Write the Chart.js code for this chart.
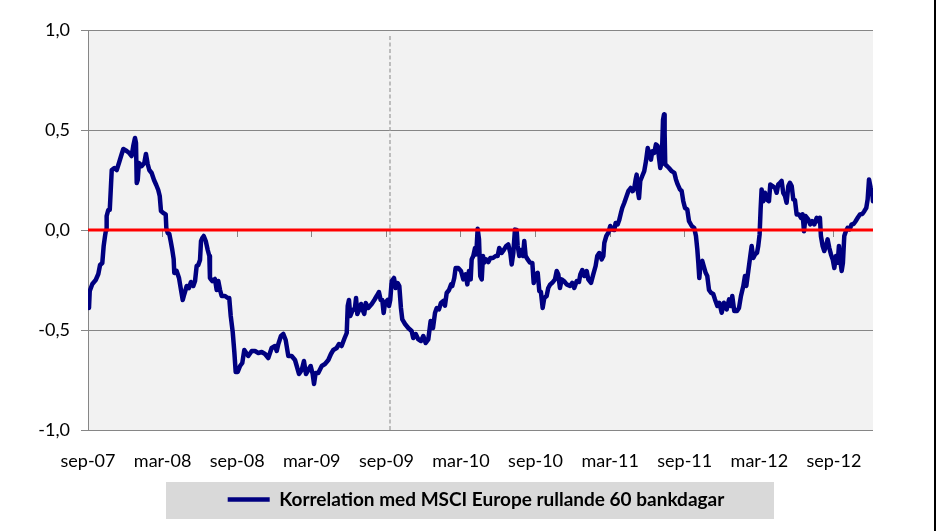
<!DOCTYPE html>
<html>
<head>
<meta charset="utf-8">
<style>
  html, body { margin: 0; padding: 0; background: #ffffff; }
  #wrap { position: relative; width: 939px; height: 531px; }
  canvas { display: block; }
</style>
<script src="https://cdn.jsdelivr.net/npm/chart.js@4.4.1/dist/chart.umd.min.js"></script>
</head>
<body>
<div id="wrap"><canvas id="c" width="939" height="531"></canvas></div>
<script>
// ---- Data (months since sep-07, correlation) ----
const seriesLabel = 'Korrelation med MSCI Europe rullande 60 bankdagar';
const tickLabels = ['sep-07','mar-08','sep-08','mar-09','sep-09','mar-10','sep-10','mar-11','sep-11','mar-12','sep-12'];
const yTickLabels = ['-1,0','-0,5','0,0','0,5','1,0'];
const xMin = 0;
const xMax = 63.14;
const zeroLevel = 0;
const markerMonth = 24.29;          // dashed vertical reference line
const markerRange = [-1, 0.98];

const months = [
0.08,0.14,0.35,0.62,0.83,0.97,1.15,1.26,1.37,1.45,1.50,1.63,1.75,1.83,1.91,2.12,2.31,2.49,2.71,2.84,
3.11,3.32,3.51,3.64,3.78,3.86,3.92,4.00,4.10,4.32,4.53,4.66,4.80,4.93,5.12,5.31,5.49,5.65,5.77,5.87,
6.06,6.25,6.30,6.41,6.54,6.65,6.78,6.89,6.94,7.13,7.32,7.48,7.62,7.75,7.94,8.12,8.28,8.47,8.61,8.74,
8.87,9.01,9.09,9.19,9.31,9.47,9.63,9.76,9.81,10.00,10.21,10.35,10.48,10.62,10.75,11.02,11.24,11.36,11.48,11.64,
11.77,11.88,12.04,12.23,12.41,12.57,12.89,13.17,13.43,13.70,13.97,14.24,14.50,14.77,15.04,15.18,15.31,15.52,15.71,15.90,
16.11,16.38,16.65,16.79,16.97,17.19,17.37,17.53,17.72,17.91,18.07,18.18,18.31,18.52,18.80,19.06,19.33,19.54,19.73,20.00,
20.19,20.40,20.61,20.81,20.89,20.99,21.10,21.26,21.47,21.56,21.66,21.80,21.96,22.09,22.22,22.34,22.54,22.82,23.03,23.22,
23.40,23.54,23.67,23.78,23.89,24.10,24.21,24.31,24.43,24.61,24.75,24.91,25.04,25.17,25.28,25.50,25.76,26.03,26.16,26.36,
26.57,26.78,26.97,27.16,27.37,27.56,27.75,27.91,28.05,28.23,28.39,28.58,28.71,28.85,29.04,29.20,29.30,29.46,29.57,29.78,
30.00,30.19,30.38,30.51,30.64,30.78,30.86,30.99,31.13,31.23,31.34,31.45,31.55,31.67,31.77,31.87,32.03,32.20,32.36,32.57,
32.79,32.95,33.08,33.27,33.46,33.64,33.80,33.97,34.08,34.21,34.34,34.48,34.56,34.69,34.83,34.99,35.09,35.20,35.36,35.55,
35.74,35.85,36.01,36.17,36.30,36.43,36.57,36.70,36.89,37.02,37.18,37.34,37.56,37.70,37.83,37.96,38.10,38.28,38.50,38.77,
38.95,39.11,39.31,39.49,39.60,39.76,39.92,40.11,40.24,40.46,40.64,40.83,40.96,41.12,41.32,41.45,41.53,41.69,41.85,42.01,
42.17,42.33,42.44,42.60,42.73,42.87,42.97,43.13,43.27,43.46,43.65,43.81,43.94,44.05,44.13,44.21,44.32,44.42,44.58,44.74,
44.88,45.02,45.15,45.28,45.39,45.55,45.68,45.82,45.93,46.03,46.14,46.25,46.33,46.38,46.43,46.57,46.73,46.95,47.16,47.29,
47.43,47.61,47.75,47.88,48.02,48.20,48.34,48.56,48.76,48.90,49.01,49.09,49.17,49.28,49.41,49.57,49.68,49.81,49.95,50.11,
50.29,50.43,50.62,50.78,50.97,51.15,51.37,51.56,51.72,51.82,51.98,52.20,52.36,52.52,52.71,52.84,52.95,53.11,53.27,53.38,
53.51,53.65,53.81,53.91,54.02,54.10,54.18,54.31,54.45,54.59,54.77,54.88,55.04,55.26,55.39,55.52,55.66,55.79,55.92,56.06,
56.19,56.33,56.46,56.60,56.73,56.86,57.00,57.19,57.35,57.48,57.59,57.72,57.93,58.09,58.25,58.42,58.61,58.74,58.87,58.95,
59.09,59.22,59.36,59.49,59.62,59.76,59.90,60.03,60.16,60.30,60.40,60.51,60.62,60.72,60.83,60.96,61.10,61.26,61.42,61.58,
61.74,61.91,62.09,62.28,62.44,62.60,62.71,62.82,62.95,63.06,63.14
];

const corr = [
-0.39,-0.305,-0.27,-0.25,-0.22,-0.175,-0.165,-0.08,-0.03,0.0,0.07,0.10,0.10,0.20,0.30,0.31,0.30,0.335,0.38,0.405,
0.395,0.385,0.37,0.42,0.46,0.435,0.235,0.25,0.335,0.32,0.335,0.38,0.33,0.30,0.285,0.25,0.225,0.20,0.17,0.095,
0.085,0.078,0.01,-0.015,-0.02,-0.055,-0.10,-0.145,-0.215,-0.205,-0.24,-0.30,-0.35,-0.32,-0.28,-0.29,-0.26,-0.28,-0.255,-0.18,
-0.175,-0.15,-0.055,-0.04,-0.03,-0.055,-0.10,-0.13,-0.24,-0.255,-0.245,-0.30,-0.255,-0.30,-0.33,-0.33,-0.34,-0.34,-0.43,-0.51,
-0.61,-0.71,-0.71,-0.68,-0.665,-0.60,-0.63,-0.605,-0.605,-0.615,-0.61,-0.62,-0.64,-0.59,-0.58,-0.605,-0.57,-0.53,-0.52,-0.55,
-0.63,-0.63,-0.65,-0.68,-0.72,-0.70,-0.655,-0.72,-0.70,-0.68,-0.72,-0.77,-0.715,-0.715,-0.68,-0.67,-0.65,-0.62,-0.60,-0.59,
-0.57,-0.58,-0.545,-0.515,-0.38,-0.35,-0.43,-0.405,-0.39,-0.34,-0.42,-0.40,-0.37,-0.40,-0.42,-0.365,-0.39,-0.37,-0.35,-0.33,
-0.31,-0.35,-0.35,-0.415,-0.365,-0.35,-0.38,-0.35,-0.255,-0.24,-0.29,-0.265,-0.28,-0.39,-0.447,-0.47,-0.49,-0.505,-0.54,-0.52,
-0.547,-0.555,-0.53,-0.565,-0.547,-0.455,-0.49,-0.415,-0.39,-0.397,-0.365,-0.355,-0.378,-0.315,-0.30,-0.272,-0.28,-0.24,-0.19,-0.19,
-0.205,-0.247,-0.222,-0.272,-0.205,-0.247,-0.147,-0.13,-0.09,-0.122,0.006,-0.047,-0.23,-0.247,-0.13,-0.163,-0.147,-0.16,-0.14,-0.14,
-0.13,-0.13,-0.09,-0.115,-0.098,-0.08,-0.072,-0.115,-0.172,-0.115,0.002,0.0,-0.08,-0.13,-0.10,-0.13,-0.055,-0.13,-0.147,-0.163,
-0.165,-0.265,-0.222,-0.214,-0.305,-0.31,-0.39,-0.34,-0.33,-0.29,-0.272,-0.264,-0.247,-0.205,-0.222,-0.29,-0.247,-0.255,-0.272,-0.28,
-0.264,-0.29,-0.255,-0.26,-0.222,-0.20,-0.23,-0.205,-0.247,-0.264,-0.222,-0.18,-0.13,-0.115,-0.147,-0.13,-0.064,-0.03,-0.014,0.02,
0.002,0.0,0.035,0.028,0.05,0.086,0.11,0.135,0.16,0.194,0.21,0.194,0.21,0.253,0.277,0.20,0.16,0.245,0.27,0.294,
0.344,0.41,0.378,0.352,0.394,0.386,0.428,0.42,0.36,0.31,0.336,0.55,0.578,0.486,0.328,0.32,0.31,0.294,0.286,0.253,
0.228,0.203,0.195,0.144,0.11,0.103,0.044,0.02,0.01,-0.03,-0.098,-0.164,-0.24,-0.164,-0.155,-0.19,-0.214,-0.23,-0.30,-0.314,
-0.32,-0.347,-0.38,-0.364,-0.414,-0.364,-0.397,-0.347,-0.38,-0.33,-0.405,-0.405,-0.39,-0.33,-0.28,-0.23,-0.28,-0.205,-0.13,-0.08,
-0.14,-0.122,-0.114,-0.08,-0.022,0.103,0.203,0.144,0.186,0.153,0.144,0.228,0.22,0.211,0.186,0.228,0.236,0.245,0.186,0.17,
0.136,0.22,0.236,0.22,0.153,0.15,0.078,0.078,0.061,0.078,-0.006,0.07,0.053,0.028,0.044,0.028,0.061,0.044,0.061,-0.03,
-0.08,-0.105,-0.08,-0.047,-0.089,-0.122,-0.147,-0.19,-0.13,-0.164,-0.08,-0.155,-0.205,-0.164,-0.03,-0.006,0.011,0.003,0.028,0.03,
0.044,0.061,0.078,0.08,0.094,0.111,0.153,0.253,0.211,0.194,0.144
];

// ---- Chart ----
Chart.defaults.font.family = 'Lato, "Open Sans", sans-serif';
Chart.defaults.color = '#000000';

const seriesData = months.map((m, i) => ({ x: m, y: corr[i] }));
const zeroData = [{ x: xMin, y: zeroLevel }, { x: xMax, y: zeroLevel }];
const markerData = [{ x: markerMonth, y: markerRange[0] }, { x: markerMonth, y: markerRange[1] }];

const decor = {
  id: 'decor',
  beforeDraw(chart) {
    const { ctx, chartArea: a } = chart;
    ctx.save();
    ctx.fillStyle = '#f2f2f2';
    ctx.fillRect(a.left, a.top, a.right - a.left, a.bottom - a.top);
    // legend background box
    ctx.fillStyle = '#d9d9d9';
    ctx.fillRect(166, 482, 608, 37);
    ctx.restore();
  },
  afterDraw(chart) {
    const { ctx } = chart;
    ctx.save();
    ctx.strokeStyle = '#000000';
    ctx.lineWidth = 2;
    ctx.beginPath();
    ctx.moveTo(935, 0);
    ctx.lineTo(935, 531);
    ctx.stroke();
    ctx.restore();
  }
};

new Chart(document.getElementById('c'), {
  type: 'line',
  data: {
    datasets: [
      {
        label: 'zero',
        data: zeroData,
        borderColor: '#ff0000',
        borderWidth: 3,
        pointRadius: 0,
        fill: false
      },
      {
        label: seriesLabel,
        data: seriesData,
        borderColor: '#000080',
        backgroundColor: '#000080',
        borderWidth: 4.5,
        borderJoinStyle: 'round',
        borderCapStyle: 'round',
        pointRadius: 0,
        tension: 0,
        fill: false
      },
      {
        label: 'marker',
        data: markerData,
        borderColor: '#a0a0a0',
        borderWidth: 1.3,
        borderDash: [4, 2.5],
        pointRadius: 0,
        fill: false
      }
    ]
  },
  options: {
    responsive: false,
    animation: false,
    layout: { padding: { left: 13, right: 0, top: 30, bottom: 12 } },
    scales: {
      x: {
        type: 'linear',
        position: 'bottom',
        min: xMin,
        max: xMax,
        grid: { display: false },
        border: { display: false },
        ticks: {
          stepSize: 6,
          includeBounds: false,
          autoSkip: false,
          maxRotation: 0,
          padding: 12,
          font: { size: 18 },
          color: '#000000',
          callback: (v) => {
            const k = Math.round(v / 6);
            return Math.abs(v - k * 6) < 1e-6 ? (tickLabels[k] || '') : '';
          }
        },
        afterFit: (s) => { s.height = 50; }
      },
      x0: {
        type: 'linear',
        position: { y: 0 },
        min: xMin,
        max: xMax,
        grid: { drawOnChartArea: false, drawTicks: true, tickLength: 7, color: '#868686', lineWidth: 1 },
        border: { display: false },
        ticks: { stepSize: 6, includeBounds: false, autoSkip: false, display: false }
      },
      y: {
        min: -1,
        max: 1,
        grid: { color: '#868686', lineWidth: 1, tickLength: 7, drawTicks: true },
        border: { display: true, color: '#868686', width: 1 },
        ticks: {
          stepSize: 0.5,
          padding: 11,
          font: { size: 18 },
          color: '#000000',
          callback: (v, i) => yTickLabels[i]
        },
        afterFit: (s) => { s.width = 75; }
      },
      yR: {
        type: 'linear',
        position: 'right',
        min: -1,
        max: 1,
        grid: { display: false },
        border: { display: false },
        ticks: { display: false },
        afterFit: (s) => { s.width = 66; }
      }
    },
    plugins: {
      legend: {
        display: true,
        position: 'bottom',
        labels: {
          usePointStyle: true,
          pointStyle: 'line',
          pointStyleWidth: 42,
          padding: 10,
          color: '#000000',
          font: { size: 19, weight: 'bold' },
          filter: (item) => item.datasetIndex === 1
        }
      },
      tooltip: { enabled: false }
    }
  },
  plugins: [decor]
});
</script>
</body>
</html>
